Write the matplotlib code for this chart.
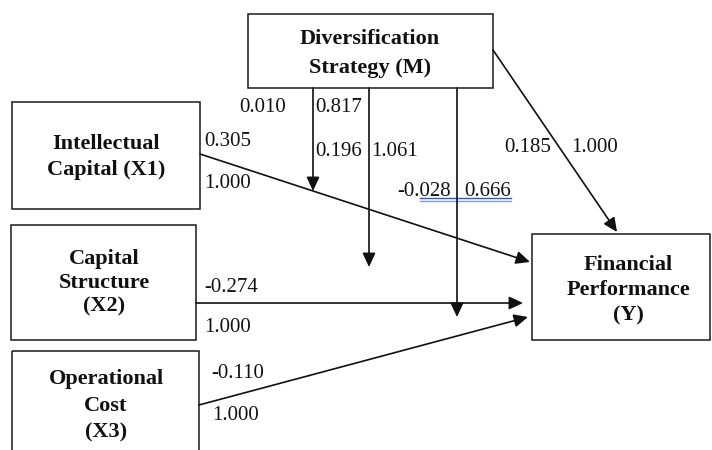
import matplotlib
matplotlib.use("Agg")
import matplotlib.pyplot as plt
from matplotlib.patches import Rectangle

plt.rcParams['font.family'] = ['Liberation Serif', 'DejaVu Serif']

# 変数（ボックス）
box_names = ["Diversification\nStrategy (M)", "Intellectual\nCapital (X1)",
             "Capital\nStructure\n(X2)", "Operational\nCost\n(X3)",
             "Financial\nPerformance\n(Y)"]
# ボックスの位置 (x0, y0, x1, y1) ピクセル
box_pos = [(248, 14, 493, 88), (12, 102, 200, 209), (11, 225, 196, 340),
           (12, 351, 199, 470), (532, 234, 710, 340)]
# テキストの中心位置と行間
box_text = [(370, 53), (106, 157), (104, 283), (106, 406), (628, 290)]
box_spacing = [1.6, 1.45, 1.25, 1.45, 1.35]

# 係数ラベル
coef_labels = ["0.010", "0.817", "0.305", "1.000", "0.196", "1.061", "0.185",
               "1.000", "-0.028", "0.666", "-0.274", "1.000", "-0.110", "1.000"]
coef_pos = [(239, 108), (315, 108), (204, 142), (204, 183), (315, 151),
            (371, 151), (504, 147), (571, 147), (397, 191), (464, 191),
            (204, 287), (204, 328), (211, 373), (212, 415)]

# 矢印 (始点, 終点)
arrows = [((200, 154), (530, 262)), ((196, 303), (523, 303)),
          ((199, 405), (528, 317)), ((493, 50), (617, 232)),
          ((313, 88), (313, 191)), ((369, 88), (369, 267)),
          ((457, 88), (457, 317))]

fig = plt.figure(figsize=(7.12, 4.5), dpi=100)
ax = fig.add_axes([0, 0, 1, 1])
ax.set_xlim(0, 712)
ax.set_ylim(450, 0)
ax.axis('off')

for (x0, y0, x1, y1), name, (tx, ty), ls in zip(box_pos, box_names, box_text, box_spacing):
    ax.add_patch(Rectangle((x0, y0), x1 - x0, y1 - y0, fill=False,
                           edgecolor='#1a1a1a', linewidth=1.1))
    ax.text(tx, ty, name, ha='center', va='center', fontsize=16,
            fontweight='bold', linespacing=ls, color='#111111')

for (start, end) in arrows:
    ax.annotate("", xy=end, xytext=start,
                arrowprops=dict(arrowstyle='-|>,head_length=0.6,head_width=0.28',
                                mutation_scale=14, color='#111111', lw=1.2,
                                shrinkA=0, shrinkB=0))

for lab, (x, y) in zip(coef_labels, coef_pos):
    ax.text(x, y, lab, ha='left', va='center', fontsize=15, color='#111111')

# 青い下線
ax.plot([420, 511], [198, 198], color='#3355cc', lw=1.0)
ax.plot([420, 511], [200.5, 200.5], color='#7799ee', lw=1.0)

fig.savefig('out.png', dpi=100)
